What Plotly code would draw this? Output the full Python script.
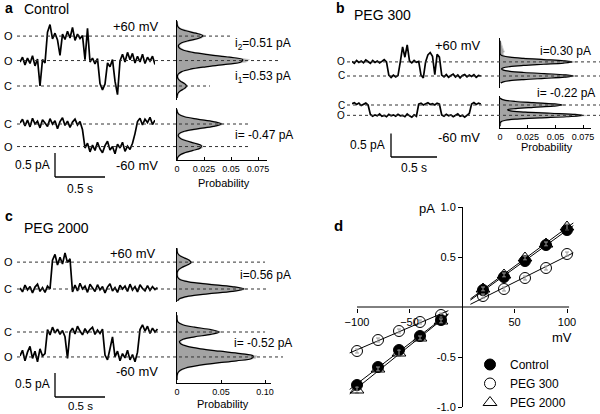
import numpy as np
import plotly.graph_objects as go

W, H = 600, 414
dt = 0.025  # s between trace samples

# ---------------- single channel records (pA) ----------------
# panel a, Control
a_up = [0.50, 0.60, 0.44, 0.58, 0.47, 0.63, 0.42, 0.56, 0.00, 0.55,
        0.48, 1.12, 1.28, 0.98, 1.10, 0.96, 0.64, 1.08, 0.97, 1.14,
        1.00, 1.22, 0.95, 1.08, 0.99, 1.05, 0.55, 1.20, 0.50, 0.58,
        0.46, 0.57, 0.05, -0.08, 0.04, 0.48, 0.40, 0.55, 0.10, -0.18,
        0.52, 0.66, 0.50, 0.70, 0.55, 0.68, 0.48, 0.62, 0.50, 0.66,
        0.47, 0.60, 0.52, 0.62, 0.45]
a_dn = [0.02, 0.10, -0.04, 0.08, -0.06, 0.12, 0.00, 0.06, -0.08, 0.09,
        0.02, -0.05, 0.11, 0.00, 0.07, -0.10, 0.05, 0.13, -0.03, 0.06,
        -0.07, 0.04, 0.10, -0.02, 0.05, -0.12, -0.50, -0.40, -0.58, -0.44,
        -0.55, -0.38, -0.52, -0.60, -0.45, -0.36, -0.54, -0.47, -0.62, -0.42,
        -0.50, -0.38, -0.57, -0.46, -0.53, -0.40, -0.20, 0.05, 0.12, -0.02,
        0.10, 0.03, 0.14, -0.01, 0.08]
# panel b, PEG 300
b_up = [0.31, 0.27, 0.33, 0.29, 0.32, 0.28, 0.34, 0.30, 0.27, 0.33,
        0.29, 0.32, 0.28, 0.31, 0.35, 0.30, 0.02, -0.03, 0.02, -0.02,
        0.01, 0.30, 0.62, 0.40, 0.66, 0.32, 0.28, 0.33, 0.29, 0.31,
        0.02, -0.04, 0.30, 0.45, 0.50, 0.42, 0.03, 0.46, 0.40, 0.02,
        -0.02, 0.03, -0.03, 0.01, 0.04, -0.02, 0.02, -0.04, 0.01, 0.03,
        -0.02, 0.02, -0.01, 0.03, -0.03, 0.01, 0.00]
b_dn = [0.03, 0.05, 0.01, 0.04, -0.01, 0.02, 0.04, 0.00, -0.20, -0.24,
        -0.21, -0.23, -0.19, -0.24, -0.22, -0.25, -0.20, -0.23, -0.21, -0.24,
        -0.20, -0.23, -0.22, -0.25, -0.19, -0.23, -0.26, -0.21, -0.24, 0.02,
        0.04, 0.00, 0.03, 0.05, 0.01, 0.03, 0.00, 0.04, 0.02, -0.21,
        -0.24, -0.20, -0.23, -0.21, -0.25, -0.22, -0.19, -0.24, -0.22, -0.26,
        -0.21, -0.18, 0.02, 0.05, 0.01, 0.04, 0.02]
# panel c, PEG 2000
c_up = [0.02, -0.06, 0.08, -0.02, 0.05, -0.08, 0.04, 0.10, -0.05, 0.03,
        -0.07, 0.06, 0.00, 0.60, 0.72, 0.50, 0.66, 0.52, 0.75, 0.55,
        0.63, -0.06, 0.08, -0.04, 0.12, 0.00, 0.06, -0.07, 0.10, 0.02,
        -0.05, 0.09, -0.02, 0.05, -0.08, 0.04, 0.11, -0.04, 0.03, -0.07,
        0.08, 0.00, 0.06, -0.05, 0.10, -0.02, 0.05, -0.06, 0.09, 0.01,
        -0.04, 0.07, -0.03, 0.05, -0.01, 0.03]
c_dn = [-0.50, -0.38, -0.60, -0.42, -0.30, -0.55, -0.40, -0.62, -0.35, -0.50,
        -0.45, 0.05, -0.06, 0.10, -0.02, 0.06, -0.05, 0.03, -0.10, -0.55,
        0.00, 0.08, -0.04, 0.12, 0.02, -0.06, 0.07, -0.02, 0.05, 0.10,
        -0.05, 0.04, -0.03, 0.06, -0.48, -0.58, -0.35, -0.10, -0.52, -0.40,
        -0.60, -0.45, -0.54, -0.38, -0.58, -0.47, -0.62, -0.42, 0.05, 0.15,
        0.02, 0.12, -0.03, 0.08, 0.00, 0.06]

# conductance levels (pA) and their labels
a_up_levels, a_up_names = [0.0, 0.53, 1.04], ["C", "O", "O"]
a_dn_levels, a_dn_names = [0.0, -0.47], ["C", "O"]
b_up_levels, b_up_names = [0.0, 0.30], ["C", "O"]
b_dn_levels, b_dn_names = [0.0, -0.22], ["C", "O"]
c_up_levels, c_up_names = [0.0, 0.56], ["C", "O"]
c_dn_levels, c_dn_names = [0.0, -0.52], ["C", "O"]

# amplitude histograms: (first bin, bin width), counts and gaussian fit
a_up_bins = (-0.25, 0.05)
a_up_hist = [0.0003, 0.0008, 0.0016, 0.0040, 0.0082, 0.0095, 0.0078, 0.0040, 0.0018, 0.0010,
             0.0020, 0.0052, 0.0140, 0.0285, 0.0470, 0.0640, 0.0670, 0.0520, 0.0330, 0.0165,
             0.0068, 0.0030, 0.0024, 0.0055, 0.0132, 0.0230, 0.0262, 0.0190, 0.0095, 0.0034,
             0.0012, 0.0004, 0.0001]
a_up_fit = [0.0000, 0.0002, 0.0009, 0.0032, 0.0070, 0.0090, 0.0070, 0.0032, 0.0010, 0.0004,
            0.0012, 0.0044, 0.0123, 0.0266, 0.0450, 0.0593, 0.0608, 0.0485, 0.0302, 0.0146,
            0.0055, 0.0018, 0.0014, 0.0043, 0.0117, 0.0208, 0.0238, 0.0174, 0.0082, 0.0025,
            0.0005, 0.0001, 0.0000]
a_dn_bins = (-0.75, 0.05)
a_dn_hist = [0.0003, 0.0012, 0.0032, 0.0082, 0.0160, 0.0235, 0.0240, 0.0180, 0.0098, 0.0042,
             0.0020, 0.0028, 0.0082, 0.0205, 0.0360, 0.0438, 0.0355, 0.0200, 0.0080, 0.0026,
             0.0008, 0.0002]
a_dn_fit = [0.0001, 0.0006, 0.0024, 0.0071, 0.0148, 0.0216, 0.0224, 0.0164, 0.0085, 0.0032,
            0.0011, 0.0020, 0.0070, 0.0188, 0.0337, 0.0410, 0.0337, 0.0188, 0.0070, 0.0018,
            0.0003, 0.0000]
b_up_bins = (-0.15, 0.025)
b_up_hist = [0.0012, 0.0036, 0.0098, 0.0230, 0.0420, 0.0610, 0.0700, 0.0610, 0.0425, 0.0230,
             0.0100, 0.0040, 0.0024, 0.0040, 0.0098, 0.0225, 0.0415, 0.0600, 0.0690, 0.0600,
             0.0410, 0.0225, 0.0100, 0.0045, 0.0030, 0.0028, 0.0035, 0.0040, 0.0032, 0.0028,
             0.0030, 0.0024, 0.0020, 0.0015, 0.0012, 0.0008, 0.0004]
b_up_fit = [0.0007, 0.0029, 0.0089, 0.0214, 0.0400, 0.0582, 0.0660, 0.0582, 0.0400, 0.0214,
            0.0089, 0.0030, 0.0014, 0.0030, 0.0088, 0.0211, 0.0394, 0.0574, 0.0650, 0.0574,
            0.0394, 0.0211, 0.0088, 0.0029, 0.0007, 0.0001, 0.0000, 0.0000, 0.0000, 0.0000,
            0.0000, 0.0000, 0.0000, 0.0000, 0.0000, 0.0000, 0.0000]
b_dn_bins = (-0.45, 0.025)
b_dn_hist = [0.0002, 0.0004, 0.0008, 0.0012, 0.0025, 0.0062, 0.0170, 0.0372, 0.0625, 0.0780,
             0.0705, 0.0478, 0.0245, 0.0110, 0.0085, 0.0160, 0.0320, 0.0505, 0.0585, 0.0500,
             0.0320, 0.0155, 0.0060, 0.0020, 0.0006]
b_dn_fit = [0.0000, 0.0000, 0.0000, 0.0002, 0.0012, 0.0049, 0.0154, 0.0355, 0.0600, 0.0745,
            0.0679, 0.0455, 0.0226, 0.0093, 0.0068, 0.0143, 0.0302, 0.0480, 0.0560, 0.0480,
            0.0302, 0.0139, 0.0047, 0.0012, 0.0002]
c_up_bins = (-0.25, 0.05)
c_up_hist = [0.0012, 0.0045, 0.0145, 0.0365, 0.0660, 0.0800, 0.0660, 0.0365, 0.0145, 0.0045,
             0.0014, 0.0010, 0.0012, 0.0026, 0.0068, 0.0130, 0.0175, 0.0150, 0.0090, 0.0036,
             0.0012, 0.0004, 0.0001]
c_up_fit = [0.0006, 0.0033, 0.0131, 0.0348, 0.0625, 0.0760, 0.0625, 0.0348, 0.0131, 0.0033,
            0.0006, 0.0001, 0.0003, 0.0016, 0.0055, 0.0116, 0.0159, 0.0139, 0.0078, 0.0028,
            0.0006, 0.0001, 0.0000]
c_dn_bins = (-1.0, 0.05)
c_dn_hist = [0.0002, 0.0004, 0.0008, 0.0018, 0.0045, 0.0112, 0.0250, 0.0460, 0.0710, 0.0890,
             0.0910, 0.0750, 0.0505, 0.0282, 0.0132, 0.0058, 0.0040, 0.0080, 0.0212, 0.0405,
             0.0505, 0.0400, 0.0210, 0.0075, 0.0022, 0.0006, 0.0002, 0.0000]
c_dn_fit = [0.0000, 0.0000, 0.0002, 0.0010, 0.0034, 0.0099, 0.0231, 0.0437, 0.0676, 0.0848,
            0.0866, 0.0719, 0.0486, 0.0267, 0.0119, 0.0045, 0.0027, 0.0068, 0.0198, 0.0384,
            0.0480, 0.0384, 0.0197, 0.0065, 0.0014, 0.0002, 0.0000, 0.0000]

# panel d, current-voltage relation
iv_mv = [-100, -80, -60, -40, -20, 20, 40, 60, 80, 100]
iv_control = [-0.78, -0.60, -0.43, -0.29, -0.13, 0.17, 0.30, 0.46, 0.62, 0.77]
iv_peg300 = [-0.44, -0.33, -0.24, -0.15, -0.08, 0.11, 0.18, 0.29, 0.39, 0.53]
iv_peg2000 = [-0.83, -0.62, -0.46, -0.31, -0.14, 0.18, 0.32, 0.49, 0.63, 0.80]
iv_control_err = [0.03, 0.02, 0.02, 0.02, 0.02, 0.02, 0.02, 0.02, 0.02, 0.03]
iv_peg300_err = [0.02, 0.02, 0.02, 0.02, 0.02, 0.02, 0.02, 0.02, 0.02, 0.02]
iv_peg2000_err = [0.03, 0.02, 0.03, 0.02, 0.02, 0.02, 0.02, 0.02, 0.02, 0.03]


# ---------------- layout helpers (pixel geometry of the figure) ----------------
def fx(p):
    return p / W


def fy(p):
    return 1 - p / H


def ax(n):
    return "" if n == 1 else str(n)


fig = go.Figure()
lay = {}
shapes = []
ann = []
FONT = "Liberation Sans, Arial, sans-serif"


def add_axes(n, xpx, ypx, xr, yr, xopts=None, yopts=None):
    base = dict(visible=False, showgrid=False, zeroline=False, fixedrange=True)
    xa = dict(base, domain=[fx(xpx[0]), fx(xpx[1])], range=xr, anchor="y" + ax(n))
    ya = dict(base, domain=[fy(ypx[1]), fy(ypx[0])], range=yr, anchor="x" + ax(n))
    if xopts:
        xa.update(xopts)
    if yopts:
        ya.update(yopts)
    lay["xaxis" + ax(n)] = xa
    lay["yaxis" + ax(n)] = ya


def note(text, x, y, size=12, anchor="left", bold=False):
    if bold:
        text = "<b>" + text + "</b>"
    ann.append(dict(text=text, x=fx(x), y=fy(y), xref="paper", yref="paper",
                    xanchor=anchor, yanchor="middle", showarrow=False,
                    font=dict(size=size, family=FONT, color="black")))


def scalebar(x, y, sx, sy):
    ln = dict(color="black", width=1.3)
    shapes.append(dict(type="line", xref="paper", yref="paper", x0=fx(x), x1=fx(x),
                       y0=fy(y), y1=fy(y - 0.5 * sy), line=ln))
    shapes.append(dict(type="line", xref="paper", yref="paper", x0=fx(x), x1=fx(x + 0.5 * sx),
                       y0=fy(y), y1=fy(y), line=ln))


# one row = one record + its amplitude histogram
rows = [
    dict(rec=a_up, lv=a_up_levels, nm=a_up_names, bins=a_up_bins, hist=a_up_hist, fit=a_up_fit,
         xpx=(20, 155), ypx=(20, 100), yc=86, sx=100, sy=48, hx=(177, 267), k=1080,
         dash=[(17, 210), (17, 278), (17, 230)], labx=8, labsize=11, ticks=None),
    dict(rec=a_dn, lv=a_dn_levels, nm=a_dn_names, bins=a_dn_bins, hist=a_dn_hist, fit=a_dn_fit,
         xpx=(20, 155), ypx=(108, 160), yc=124, sx=100, sy=48, hx=(177, 267), k=1080,
         dash=[(17, 248), (17, 248)], labx=8, labsize=11,
         ticks=([0, 0.025, 0.05, 0.075], ["0", "0.025", "0.05", "0.075"])),
    dict(rec=b_up, lv=b_up_levels, nm=b_up_names, bins=b_up_bins, hist=b_up_hist, fit=b_up_fit,
         xpx=(352, 483), ypx=(38, 88), yc=76, sx=92, sy=47, hx=(500, 591), k=1108,
         dash=[(347, 600), (347, 600)], labx=341, labsize=10, ticks=None),
    dict(rec=b_dn, lv=b_dn_levels, nm=b_dn_names, bins=b_dn_bins, hist=b_dn_hist, fit=b_dn_fit,
         xpx=(352, 483), ypx=(96, 128), yc=105, sx=92, sy=47, hx=(500, 591), k=1108,
         dash=[(347, 600), (347, 600)], labx=341, labsize=10,
         ticks=([0, 0.025, 0.05, 0.075], ["0", "0.025", "0.05", "0.075"])),
    dict(rec=c_up, lv=c_up_levels, nm=c_up_names, bins=c_up_bins, hist=c_up_hist, fit=c_up_fit,
         xpx=(20, 158), ypx=(248, 302), yc=289, sx=100, sy=48, hx=(177, 271), k=880,
         dash=[(17, 268), (17, 265)], labx=8, labsize=11, ticks=None),
    dict(rec=c_dn, lv=c_dn_levels, nm=c_dn_names, bins=c_dn_bins, hist=c_dn_hist, fit=c_dn_fit,
         xpx=(20, 158), ypx=(312, 383), yc=332, sx=100, sy=48, hx=(177, 271), k=880,
         dash=[(17, 265), (17, 283)], labx=8, labsize=11,
         ticks=([0, 0.05, 0.10], ["0", "0.05", "0.10"])),
]

n = 1
for r in rows:
    yr = [(r["yc"] - r["ypx"][1]) / r["sy"], (r["yc"] - r["ypx"][0]) / r["sy"]]
    # record
    add_axes(n, r["xpx"], r["ypx"], [0, (r["xpx"][1] - r["xpx"][0]) / r["sx"]], yr)
    t = np.arange(len(r["rec"])) * dt
    fig.add_trace(go.Scatter(x=t, y=r["rec"], mode="lines", line=dict(color="black", width=1.7),
                             xaxis="x" + ax(n), yaxis="y" + ax(n), showlegend=False, hoverinfo="skip"))
    for lvl, name, (d0, d1) in zip(r["lv"], r["nm"], r["dash"]):
        shapes.append(dict(type="line", xref="paper", yref="y" + ax(n), x0=fx(d0), x1=fx(d1),
                           y0=lvl, y1=lvl, line=dict(color="#333", width=1, dash="3px,3px")))
        ann.append(dict(text=name, x=fx(r["labx"]), y=lvl, xref="paper", yref="y" + ax(n),
                        xanchor="center", yanchor="middle", showarrow=False,
                        font=dict(size=r["labsize"], family=FONT, color="black")))
    # histogram
    m = n + 1
    xopts = None
    if r["ticks"]:
        xopts = dict(visible=True, showline=True, linecolor="black", linewidth=1,
                     ticks="inside", ticklen=3, tickcolor="black",
                     tickvals=r["ticks"][0], ticktext=r["ticks"][1],
                     tickfont=dict(size=9, family=FONT, color="black"))
    yopts = dict(visible=True, showline=True, linecolor="black", linewidth=1,
                 showticklabels=False, ticks="")
    add_axes(m, r["hx"], r["ypx"], [0, (r["hx"][1] - r["hx"][0]) / r["k"]], yr, xopts, yopts)
    b0, bw = r["bins"]
    cur = np.round(b0 + bw * np.arange(len(r["hist"])), 4)
    fig.add_trace(go.Scatter(x=r["hist"], y=cur, mode="lines", fill="tozerox",
                             fillcolor="#a3a3a3", line=dict(color="#cdcdcd", width=1),
                             xaxis="x" + ax(m), yaxis="y" + ax(m), showlegend=False, hoverinfo="skip"))
    fig.add_trace(go.Scatter(x=r["fit"], y=cur, mode="lines",
                             line=dict(color="black", width=1.2, shape="spline"),
                             xaxis="x" + ax(m), yaxis="y" + ax(m), showlegend=False, hoverinfo="skip"))
    n += 2

scalebar(55, 177, 100, 48)
scalebar(391, 157, 92, 47)
scalebar(55, 397, 100, 48)

# panel texts
note("a", 3, 8, 14, bold=True)
note("Control", 22, 9, 14)
note("+60 mV", 160, 27, 13, "right")
note("i<sub>2</sub>=0.51 pA", 233, 44, 12)
note("i<sub>1</sub>=0.53 pA", 233, 77, 12)
note("i= -0.47 pA", 233, 135, 12)
note("-60 mV", 160, 165, 13, "right")
note("0.5 pA", 52, 165, 12, "right")
note("0.5 s", 80, 189, 12, "center")
note("Probability", 224, 183, 11, "center")

note("b", 334, 8, 14, bold=True)
note("PEG 300", 352, 15, 14)
note("+60 mV", 482, 45, 13, "right")
note("i=0.30 pA", 538, 51, 12)
note("i= -0.22 pA", 535, 93, 12)
note("-60 mV", 482, 138, 13, "right")
note("0.5 pA", 387, 145, 12, "right")
note("0.5 s", 414, 168, 12, "center")
note("Probability", 547, 147, 11, "center")

note("c", 3, 216, 14, bold=True)
note("PEG 2000", 22, 228, 14)
note("+60 mV", 157, 253, 13, "right")
note("i=0.56 pA", 238, 275, 12)
note("i= -0.52 pA", 232, 343, 12)
note("-60 mV", 160, 371, 13, "right")
note("0.5 pA", 52, 384, 12, "right")
note("0.5 s", 80, 406, 11.5, "center")
note("Probability", 223, 404, 11, "center")

note("d", 332, 225, 15, bold=True)
note("pA", 427, 208, 13, "center")
note("mV", 562, 337, 13, "center")

# ---------------- panel d: I-V ----------------
lay["xaxis13"] = dict(domain=[fx(462 - 115.5), fx(462 + 115.5)], range=[-110, 110],
                      anchor="free", position=fy(308), showline=False, showgrid=False,
                      zeroline=False, ticks="outside", ticklen=4, tickcolor="black",
                      tickvals=[-100, -50, 50, 100],
                      tickfont=dict(size=11, family=FONT, color="black"), fixedrange=True)
lay["yaxis13"] = dict(domain=[fy(407), fy(207)], range=[-1, 1], anchor="free",
                      position=fx(462), showline=True, linecolor="black", linewidth=1,
                      showgrid=False, zeroline=False, ticks="outside", ticklen=4,
                      tickcolor="black", tickvals=[-1, -0.5, 0.5, 1],
                      ticktext=["-1.0", "-0.5", "0.5", "1.0"],
                      tickfont=dict(size=11, family=FONT, color="black"), fixedrange=True)
shapes.append(dict(type="line", xref="x13", yref="y13", x0=-100, x1=102, y0=0, y1=0,
                   line=dict(color="black", width=1)))

mv = np.array(iv_mv)
neg = mv < 0
for vals in (iv_control, iv_peg2000, iv_peg300):
    v = np.array(vals)
    for mask, xs in ((neg, [-107, -13]), (~neg, [8, 106])):
        p = np.polyfit(mv[mask], v[mask], 1)
        fig.add_trace(go.Scatter(x=xs, y=np.polyval(p, xs), mode="lines",
                                 line=dict(color="black", width=1), xaxis="x13", yaxis="y13",
                                 showlegend=False, hoverinfo="skip"))

series = [
    ("Control", iv_control, iv_control_err, dict(symbol="circle", size=11, color="black",
                                                 line=dict(color="black", width=1))),
    ("PEG 300", iv_peg300, iv_peg300_err, dict(symbol="circle-open", size=11, color="black",
                                               line=dict(width=1))),
    ("PEG 2000", iv_peg2000, iv_peg2000_err, dict(symbol="triangle-up-open", size=12,
                                                  color="black", line=dict(width=1))),
]
for name, vals, err, mk in series:
    fig.add_trace(go.Scatter(x=iv_mv, y=vals, mode="markers", name=name, marker=mk,
                             error_y=dict(type="data", array=err, color="#9a9a9a",
                                          thickness=1, width=2),
                             xaxis="x13", yaxis="y13", cliponaxis=False))

fig.update_layout(
    width=W, height=H, margin=dict(l=0, r=0, t=0, b=0, autoexpand=False),
    paper_bgcolor="white", plot_bgcolor="rgba(0,0,0,0)",
    font=dict(family=FONT, color="black", size=12),
    shapes=shapes, annotations=ann,
    legend=dict(x=fx(470), y=fy(350), xanchor="left", yanchor="top",
                font=dict(size=12, family=FONT, color="black"),
                bgcolor="rgba(0,0,0,0)", itemsizing="trace", tracegroupgap=0),
    **lay,
)

# the page body has a default 8px margin; drop it so the 600x414 figure fills the window
fig.write_html("out.html", config={"displayModeBar": False},
               post_script="document.body.style.margin='0px';")
